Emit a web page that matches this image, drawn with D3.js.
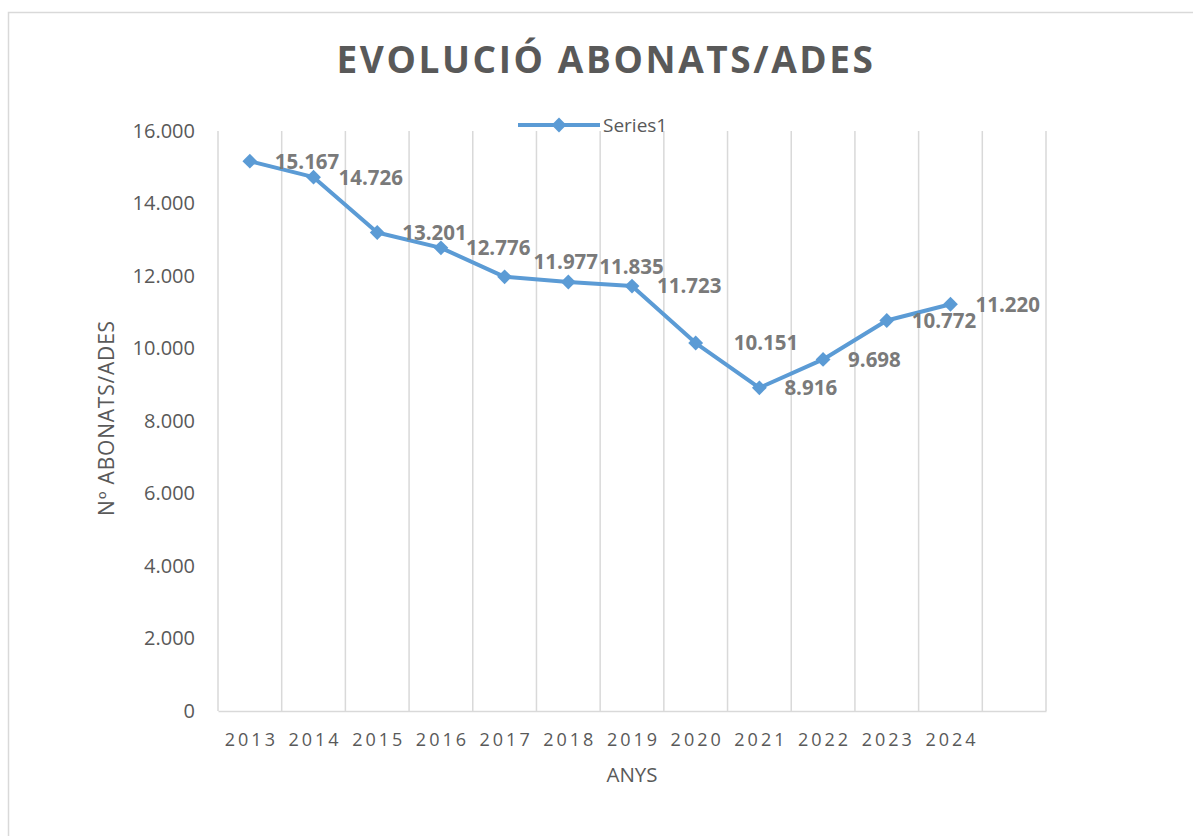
<!DOCTYPE html>
<html>
<head>
<meta charset="utf-8">
<script src="https://cdn.jsdelivr.net/npm/d3@7"></script>
<style>
  body { margin: 0; background: #fff; }
  text { font-family: "Open Sans", sans-serif; }
</style>
</head>
<body>
<div id="chart"></div>
<script>
// chart values
var years = ["2013", "2014", "2015", "2016", "2017", "2018", "2019", "2020", "2021", "2022", "2023", "2024"];
var abonats = [15167, 14726, 13201, 12776, 11977, 11835, 11723, 10151, 8916, 9698, 10772, 11220];
var yTicks = [0, 2000, 4000, 6000, 8000, 10000, 12000, 14000, 16000];
var seriesName = "Series1";

// a few labels were nudged by hand in the original (year -> [dx, dy])
var labelNudge = {"2017": [4, -15], "2018": [6, -15], "2020": [13, 0]};

var W = 1193, H = 836;
// plot area
var margin = {top: 131, right: 147, bottom: 125, left: 218},
    width = W - margin.left - margin.right,
    height = H - margin.top - margin.bottom;

var lineColor = "#5b9bd5", gridColor = "#d9d9d9", textColor = "#595959";

var fmt = d3.formatLocale({decimal: ",", thousands: ".", grouping: [3], currency: ["", ""]}).format(",d");

var svg = d3.select("#chart").append("svg")
    .attr("width", W)
    .attr("height", H);

// chart border
svg.append("rect")
    .attr("x", 8.5).attr("y", 12.5)
    .attr("width", W + 20).attr("height", H + 20)
    .attr("fill", "none")
    .attr("stroke", gridColor)
    .attr("stroke-width", 1.5);

var g = svg.append("g")
    .attr("transform", "translate(" + margin.left + "," + margin.top + ")");

// 12 years plus one empty slot at the end, like the original
var x = d3.scaleBand()
    .domain(years.concat([""]))
    .range([0, width])
    .padding(0);
var y = d3.scaleLinear()
    .domain([0, 16000])
    .range([height, 0]);

function cx(i) { return x(years[i]) + x.bandwidth() / 2; }

// vertical gridlines at category edges
var edges = x.domain().map(function(d) { return x(d); }).concat([width]);
g.selectAll(".vgrid")
    .data(edges)
    .enter().append("line")
    .attr("class", "vgrid")
    .attr("x1", function(d) { return d; })
    .attr("x2", function(d) { return d; })
    .attr("y1", 0)
    .attr("y2", height)
    .attr("stroke", gridColor)
    .attr("stroke-width", 1.5);

// x axis
var xAxis = g.append("g")
    .attr("transform", "translate(0," + height + ")")
    .call(d3.axisBottom(x).tickSize(0).tickPadding(22).tickFormat(function(d) { return d; }));
xAxis.select(".domain").attr("stroke", gridColor).attr("stroke-width", 1.5);
xAxis.selectAll("text")
    .attr("fill", textColor)
    .attr("dx", "1.5px")
    .style("font-size", "18px")
    .style("letter-spacing", "3px");

// y axis
var yAxis = g.append("g")
    .call(d3.axisLeft(y).tickValues(yTicks).tickSize(0).tickPadding(23).tickFormat(fmt));
yAxis.select(".domain").remove();
yAxis.selectAll("text")
    .attr("fill", textColor)
    .style("font-size", "20px");

// line
var line = d3.line()
    .x(function(d, i) { return cx(i); })
    .y(function(d) { return y(d); });

g.append("path")
    .datum(abonats)
    .attr("fill", "none")
    .attr("stroke", lineColor)
    .attr("stroke-width", 4)
    .attr("stroke-linejoin", "round")
    .attr("d", line);

var diamond = d3.symbol().type(d3.symbolSquare).size(110);

g.selectAll(".marker")
    .data(abonats)
    .enter().append("path")
    .attr("class", "marker")
    .attr("d", diamond)
    .attr("fill", lineColor)
    .attr("transform", function(d, i) {
        return "translate(" + cx(i) + "," + y(d) + ") rotate(45)";
    });

// data labels, to the right of each point
g.selectAll(".label")
    .data(abonats)
    .enter().append("text")
    .attr("class", "label")
    .attr("x", function(d, i) { var n = labelNudge[years[i]] || [0, 0]; return cx(i) + 25 + n[0]; })
    .attr("y", function(d, i) { var n = labelNudge[years[i]] || [0, 0]; return y(d) + n[1]; })
    .attr("dy", "0.36em")
    .attr("fill", "#7a7a7a")
    .style("font-size", "20.5px")
    .style("font-weight", "bold")
    .text(function(d) { return fmt(d); });

// title
svg.append("text")
    .attr("x", 606)
    .attr("y", 73)
    .attr("text-anchor", "middle")
    .attr("fill", textColor)
    .style("font-size", "37px")
    .style("font-weight", "bold")
    .style("letter-spacing", "2.6px")
    .text("EVOLUCIÓ ABONATS/ADES");

// legend
var leg = svg.append("g").attr("transform", "translate(518,125)");
leg.append("line")
    .attr("x1", 0).attr("x2", 82)
    .attr("y1", 0).attr("y2", 0)
    .attr("stroke", lineColor)
    .attr("stroke-width", 4);
leg.append("path")
    .attr("d", diamond)
    .attr("fill", lineColor)
    .attr("transform", "translate(41,0) rotate(45)");
leg.append("text")
    .attr("x", 85)
    .attr("y", 0)
    .attr("dy", "0.36em")
    .attr("fill", textColor)
    .style("font-size", "19px")
    .text(seriesName);

// axis titles
svg.append("text")
    .attr("transform", "translate(114,418) rotate(-90)")
    .attr("text-anchor", "middle")
    .attr("fill", textColor)
    .style("font-size", "21px")
    .style("letter-spacing", "0.8px")
    .text("Nº ABONATS/ADES");

svg.append("text")
    .attr("x", 632)
    .attr("y", 782)
    .attr("text-anchor", "middle")
    .attr("fill", textColor)
    .style("font-size", "20.5px")
    .text("ANYS");
</script>
</body>
</html>
